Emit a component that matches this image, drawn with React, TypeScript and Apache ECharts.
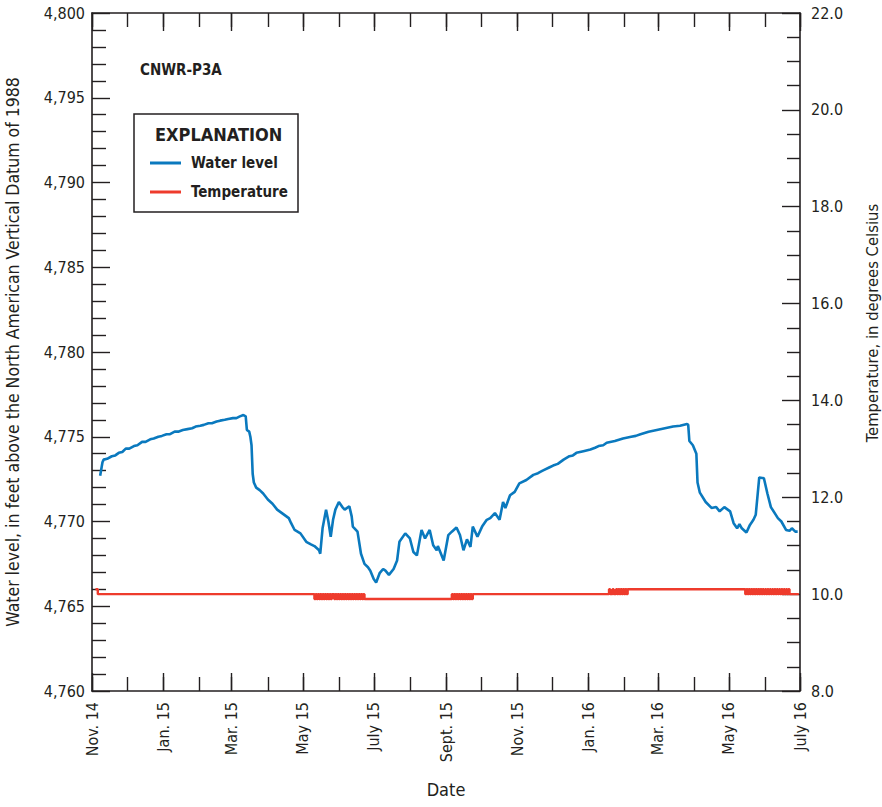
import React, { useEffect, useRef } from 'react';
import * as echarts from 'echarts';

const FONT = "'Liberation Sans Narrow', 'DejaVu Sans Condensed', 'Arial Narrow', 'Liberation Sans', sans-serif";
const INK = '#231f20';
const BLUE = '#0a79be';
const RED = '#ee3b2c';

const WELL_NAME = 'CNWR-P3A';
const AXIS_START = '2014-11-01';
const AXIS_END = '2016-07-01';

// Monthly tick marks along the date axis
const MONTH_TICKS = [
  '2014-11-01', '2014-12-01', '2015-01-01', '2015-02-01', '2015-03-01', '2015-04-01',
  '2015-05-01', '2015-06-01', '2015-07-01', '2015-08-01', '2015-09-01', '2015-10-01',
  '2015-11-01', '2015-12-01', '2016-01-01', '2016-02-01', '2016-03-01', '2016-04-01',
  '2016-05-01', '2016-06-01', '2016-07-01',
];

// Labelled (every other month) ticks
const LABEL_TICKS = [
  '2014-11-01', '2015-01-01', '2015-03-01', '2015-05-01', '2015-07-01', '2015-09-01',
  '2015-11-01', '2016-01-01', '2016-03-01', '2016-05-01', '2016-07-01',
];
const LABEL_TEXTS = [
  'Nov. 14', 'Jan. 15', 'Mar. 15', 'May 15', 'July 15', 'Sept. 15',
  'Nov. 15', 'Jan. 16', 'Mar. 16', 'May 16', 'July 16',
];

// Water level, in feet above NAVD 88
const WATER_LEVEL: [string, number][] = [
  ['2014-11-08', 4772.7], ['2014-11-10', 4773.5], ['2014-11-11', 4773.65], ['2014-11-14', 4773.7],
  ['2014-11-18', 4773.85], ['2014-11-21', 4773.9], ['2014-11-24', 4774.05], ['2014-11-27', 4774.1],
  ['2014-11-30', 4774.3], ['2014-12-03', 4774.3], ['2014-12-07', 4774.45], ['2014-12-10', 4774.5],
  ['2014-12-14', 4774.7], ['2014-12-17', 4774.7], ['2014-12-21', 4774.85], ['2014-12-24', 4774.9],
  ['2014-12-28', 4775.0], ['2014-12-31', 4775.05], ['2015-01-04', 4775.15], ['2015-01-07', 4775.15],
  ['2015-01-11', 4775.3], ['2015-01-14', 4775.3], ['2015-01-18', 4775.4], ['2015-01-22', 4775.45],
  ['2015-01-26', 4775.5], ['2015-01-29', 4775.6], ['2015-02-02', 4775.65], ['2015-02-05', 4775.7],
  ['2015-02-09', 4775.8], ['2015-02-12', 4775.8], ['2015-02-16', 4775.9], ['2015-02-19', 4775.95],
  ['2015-02-23', 4776.0], ['2015-02-26', 4776.05], ['2015-03-02', 4776.1], ['2015-03-05', 4776.1],
  ['2015-03-08', 4776.2], ['2015-03-11', 4776.28], ['2015-03-13', 4776.2], ['2015-03-14', 4775.4],
  ['2015-03-16', 4775.3], ['2015-03-17', 4775.0], ['2015-03-18', 4774.5], ['2015-03-19', 4772.8],
  ['2015-03-20', 4772.3], ['2015-03-22', 4772.0], ['2015-03-25', 4771.85], ['2015-03-28', 4771.65],
  ['2015-04-01', 4771.3], ['2015-04-05', 4771.05], ['2015-04-09', 4770.7], ['2015-04-14', 4770.45],
  ['2015-04-19', 4770.2], ['2015-04-21', 4769.9], ['2015-04-24', 4769.5], ['2015-04-29', 4769.3],
  ['2015-05-04', 4768.8], ['2015-05-08', 4768.65], ['2015-05-11', 4768.55], ['2015-05-15', 4768.3],
  ['2015-05-16', 4768.1], ['2015-05-18', 4769.6], ['2015-05-21', 4770.7], ['2015-05-23', 4770.0],
  ['2015-05-25', 4769.1], ['2015-05-27', 4770.1], ['2015-05-29', 4770.7], ['2015-06-01', 4771.15],
  ['2015-06-04', 4770.85], ['2015-06-06', 4770.7], ['2015-06-10', 4770.9], ['2015-06-12', 4770.3],
  ['2015-06-13', 4769.7], ['2015-06-17', 4769.4], ['2015-06-20', 4768.1], ['2015-06-23', 4767.5],
  ['2015-06-26', 4767.3], ['2015-06-28', 4767.1], ['2015-07-01', 4766.6], ['2015-07-03', 4766.4],
  ['2015-07-06', 4766.95], ['2015-07-09', 4767.2], ['2015-07-11', 4767.1], ['2015-07-14', 4766.85],
  ['2015-07-18', 4767.2], ['2015-07-21', 4767.7], ['2015-07-23', 4768.8], ['2015-07-28', 4769.3],
  ['2015-08-01', 4769.0], ['2015-08-04', 4768.2], ['2015-08-07', 4768.0], ['2015-08-11', 4769.5],
  ['2015-08-14', 4769.0], ['2015-08-18', 4769.5], ['2015-08-21', 4768.6], ['2015-08-24', 4768.3],
  ['2015-08-25', 4768.55], ['2015-08-30', 4767.7], ['2015-09-03', 4769.2], ['2015-09-06', 4769.4],
  ['2015-09-10', 4769.65], ['2015-09-13', 4769.2], ['2015-09-16', 4768.3], ['2015-09-19', 4768.95],
  ['2015-09-22', 4768.5], ['2015-09-24', 4769.7], ['2015-09-28', 4769.1], ['2015-10-02', 4769.7],
  ['2015-10-06', 4770.1], ['2015-10-09', 4770.2], ['2015-10-13', 4770.5], ['2015-10-17', 4770.1],
  ['2015-10-20', 4771.15], ['2015-10-22', 4770.8], ['2015-10-26', 4771.55], ['2015-10-30', 4771.75],
  ['2015-11-03', 4772.25], ['2015-11-09', 4772.45], ['2015-11-15', 4772.75], ['2015-11-19', 4772.85],
  ['2015-11-23', 4773.0], ['2015-11-29', 4773.2], ['2015-12-02', 4773.3], ['2015-12-06', 4773.4],
  ['2015-12-11', 4773.65], ['2015-12-16', 4773.85], ['2015-12-19', 4773.9], ['2015-12-22', 4774.05],
  ['2015-12-28', 4774.15], ['2016-01-03', 4774.25], ['2016-01-07', 4774.35], ['2016-01-10', 4774.45],
  ['2016-01-14', 4774.5], ['2016-01-17', 4774.65], ['2016-01-24', 4774.75], ['2016-01-31', 4774.9],
  ['2016-02-07', 4775.0], ['2016-02-11', 4775.05], ['2016-02-15', 4775.15], ['2016-02-22', 4775.3],
  ['2016-02-29', 4775.4], ['2016-03-07', 4775.5], ['2016-03-14', 4775.6], ['2016-03-20', 4775.65],
  ['2016-03-26', 4775.75], ['2016-03-27', 4775.7], ['2016-03-28', 4774.75], ['2016-03-31', 4774.5],
  ['2016-04-03', 4774.0], ['2016-04-04', 4772.3], ['2016-04-06', 4771.7], ['2016-04-11', 4771.15],
  ['2016-04-16', 4770.8], ['2016-04-20', 4770.85], ['2016-04-23', 4770.6], ['2016-04-27', 4770.85],
  ['2016-05-02', 4770.6], ['2016-05-05', 4769.9], ['2016-05-08', 4769.6], ['2016-05-10', 4769.85],
  ['2016-05-12', 4769.6], ['2016-05-16', 4769.35], ['2016-05-19', 4769.8], ['2016-05-22', 4770.1],
  ['2016-05-24', 4770.4], ['2016-05-27', 4772.6], ['2016-05-31', 4772.55], ['2016-06-03', 4771.65],
  ['2016-06-06', 4770.85], ['2016-06-12', 4770.2], ['2016-06-15', 4770.0], ['2016-06-19', 4769.5],
  ['2016-06-22', 4769.45], ['2016-06-24', 4769.6], ['2016-06-27', 4769.4], ['2016-06-29', 4769.4],
];

// Temperature, degrees Celsius: steady readings between logger flicker periods
const TEMPERATURE_STEPS: [string, number][] = [
  ['2014-11-04', 10.1], ['2014-11-06', 10.0],
  ['2015-06-24', 9.9],
  ['2015-09-24', 10.0],
  ['2016-02-04', 10.1],
  ['2016-06-21', 10.1], ['2016-06-22', 10.0], ['2016-06-30', 10.0],
];

// Daily readings while the sensor flickered between two values
const FLICKER_MAY_2015_START = '2015-05-11';
const FLICKER_MAY_2015 = [
  9.9, 10.0, 9.9, 10.0, 9.9, 10.0, 9.9, 10.0, 9.9, 10.0, 9.9, 10.0, 9.9, 10.0, 9.9,
  10.0, 10.0, 9.9, 10.0, 9.9, 10.0, 9.9, 10.0, 9.9, 10.0, 9.9, 10.0, 9.9, 10.0, 9.9,
  10.0, 9.9, 10.0, 9.9, 10.0, 9.9, 10.0, 9.9, 10.0, 9.9, 10.0, 9.9, 10.0, 9.9,
];
const FLICKER_SEP_2015_START = '2015-09-06';
const FLICKER_SEP_2015 = [
  10.0, 9.9, 10.0, 9.9, 10.0, 9.9, 10.0, 9.9, 10.0, 9.9, 10.0, 9.9, 10.0, 9.9, 10.0, 9.9, 10.0, 9.9,
];
const FLICKER_JAN_2016_START = '2016-01-19';
const FLICKER_JAN_2016 = [
  10.1, 10.0, 10.0, 10.1, 10.0, 10.0, 10.1, 10.0, 10.1, 10.0, 10.1, 10.0, 10.1, 10.0, 10.1, 10.0,
];
const FLICKER_MAY_2016_START = '2016-05-15';
const FLICKER_MAY_2016 = [
  10.0, 10.1, 10.0, 10.1, 10.0, 10.1, 10.0, 10.1, 10.0, 10.1, 10.0, 10.1, 10.0, 10.1, 10.0, 10.1,
  10.0, 10.1, 10.0, 10.1, 10.0, 10.1, 10.0, 10.1, 10.0, 10.1, 10.0, 10.1, 10.0, 10.1, 10.0, 10.1,
  10.0, 10.1, 10.0, 10.1, 10.0,
];

const DAY_MS = 86400000;
const toTime = (s: string) => {
  const [y, m, d] = s.split('-').map(Number);
  return Date.UTC(y, m - 1, d);
};

function dailyRun(start: string, values: number[]): [number, number][] {
  const t0 = toTime(start);
  return values.map((v, i) => [t0 + i * DAY_MS, v]);
}

function buildTemperature(): [number, number][] {
  const pts: [number, number][] = [
    ...TEMPERATURE_STEPS.map(([d, v]) => [toTime(d), v] as [number, number]),
    ...dailyRun(FLICKER_MAY_2015_START, FLICKER_MAY_2015),
    ...dailyRun(FLICKER_SEP_2015_START, FLICKER_SEP_2015),
    ...dailyRun(FLICKER_JAN_2016_START, FLICKER_JAN_2016),
    ...dailyRun(FLICKER_MAY_2016_START, FLICKER_MAY_2016),
  ];
  return pts.sort((a, b) => a[0] - b[0]);
}

const tickLine = { color: INK, width: 1.4 };
const textBase = { color: INK, fontFamily: FONT };

export default function App() {
  const ref = useRef<HTMLDivElement>(null);

  useEffect(() => {
    if (!ref.current) return;
    const chart = echarts.init(ref.current, undefined, { renderer: 'svg' });

    const xMin = toTime(AXIS_START);
    const xMax = toTime(AXIS_END);
    const monthTimes = MONTH_TICKS.map(toTime);
    const labelTimes = LABEL_TICKS.map(toTime);
    const labelFor = (v: number) => {
      const i = labelTimes.indexOf(v);
      return i >= 0 ? LABEL_TEXTS[i] : '';
    };

    // Dates are plotted as epoch milliseconds on a linear axis
    const baseX = {
      type: 'value',
      min: xMin,
      max: xMax,
      scale: true,
      splitLine: { show: false },
    };

    const option: any = {
      animation: false,
      backgroundColor: '#ffffff',
      grid: { left: 92, top: 13, width: 708, height: 678, containLabel: false, outerBoundsMode: 'none' },
      xAxis: [
        {
          ...baseX,
          position: 'bottom',
          axisLine: { show: true, lineStyle: { color: INK, width: 1.6 } },
          axisTick: { show: true, inside: true, length: 14, customValues: monthTimes, lineStyle: tickLine },
          axisLabel: {
            ...textBase,
            fontSize: 16,
            rotate: 90,
            margin: 11,
            customValues: labelTimes,
            formatter: (v: number) => labelFor(v),
          },
          name: 'Date',
          nameLocation: 'middle',
          nameGap: 89,
          nameTextStyle: { ...textBase, fontSize: 18 },
        },
        {
          ...baseX,
          position: 'bottom',
          axisLine: { show: false },
          axisTick: { show: true, inside: true, length: 18, customValues: labelTimes, lineStyle: tickLine },
          axisLabel: { show: false },
        },
        {
          ...baseX,
          position: 'top',
          axisLine: { show: true, lineStyle: { color: INK, width: 1.6 } },
          axisTick: { show: true, inside: true, length: 14, customValues: monthTimes, lineStyle: tickLine },
          axisLabel: { show: false },
        },
        {
          ...baseX,
          position: 'top',
          axisLine: { show: false },
          axisTick: { show: true, inside: true, length: 18, customValues: labelTimes, lineStyle: tickLine },
          axisLabel: { show: false },
        },
      ],
      yAxis: [
        {
          type: 'value',
          position: 'left',
          min: 4760,
          max: 4800,
          interval: 5,
          splitLine: { show: false },
          axisLine: { show: true, lineStyle: { color: INK, width: 1.6 } },
          axisTick: { show: true, inside: true, length: 18, lineStyle: tickLine },
          minorTick: { show: true, splitNumber: 5, length: 14, lineStyle: tickLine },
          axisLabel: {
            ...textBase,
            fontSize: 16,
            margin: 7,
            formatter: (v: number) => v.toLocaleString('en-US'),
          },
          name: 'Water level, in feet above the North American Vertical Datum of 1988',
          nameLocation: 'middle',
          nameGap: 70,
          nameTextStyle: { ...textBase, fontSize: 17.5 },
        },
        {
          type: 'value',
          position: 'right',
          min: 8,
          max: 22,
          interval: 2,
          splitLine: { show: false },
          axisLine: { show: true, lineStyle: { color: INK, width: 1.6 } },
          axisTick: { show: true, inside: true, length: 18, lineStyle: tickLine },
          minorTick: { show: true, splitNumber: 4, length: 13, lineStyle: tickLine },
          axisLabel: {
            ...textBase,
            fontSize: 16,
            margin: 11,
            formatter: (v: number) => v.toFixed(1),
          },
        },
      ],
      series: [
        {
          name: 'Water level',
          type: 'line',
          xAxisIndex: 0,
          yAxisIndex: 0,
          showSymbol: false,
          lineStyle: { color: BLUE, width: 2.6 },
          itemStyle: { color: BLUE },
          data: WATER_LEVEL.map(([d, v]) => [toTime(d), v]),
        },
        {
          name: 'Temperature',
          type: 'line',
          step: 'end',
          xAxisIndex: 0,
          yAxisIndex: 1,
          showSymbol: false,
          lineStyle: { color: RED, width: 2.4 },
          itemStyle: { color: RED },
          data: buildTemperature(),
        },
      ],
      graphic: [
        {
          type: 'text',
          x: 140,
          y: 70,
          style: { text: WELL_NAME, fill: INK, font: `bold 15px ${FONT}`, verticalAlign: 'middle' },
        },
        {
          type: 'rect',
          shape: { x: 134, y: 114, width: 164, height: 98 },
          style: { fill: '#ffffff', stroke: INK, lineWidth: 1.5 },
        },
        {
          type: 'text',
          x: 155,
          y: 134,
          style: { text: 'EXPLANATION', fill: INK, font: `bold 18px ${FONT}`, verticalAlign: 'middle' },
        },
        {
          type: 'line',
          shape: { x1: 150, y1: 163, x2: 181, y2: 163 },
          style: { stroke: BLUE, lineWidth: 3 },
        },
        {
          type: 'text',
          x: 191,
          y: 163,
          style: { text: 'Water level', fill: INK, font: `bold 15px ${FONT}`, verticalAlign: 'middle' },
        },
        {
          type: 'line',
          shape: { x1: 150, y1: 192, x2: 181, y2: 192 },
          style: { stroke: RED, lineWidth: 3 },
        },
        {
          type: 'text',
          x: 191,
          y: 192,
          style: { text: 'Temperature', fill: INK, font: `bold 15px ${FONT}`, verticalAlign: 'middle' },
        },
        {
          type: 'text',
          x: 872,
          y: 323,
          rotation: Math.PI / 2,
          style: {
            text: 'Temperature, in degrees Celsius',
            fill: INK,
            font: `16.5px ${FONT}`,
            align: 'center',
            verticalAlign: 'middle',
          },
        },
      ],
    };

    chart.setOption(option);
    return () => chart.dispose();
  }, []);

  return (
    <div
      ref={ref}
      style={{ position: 'absolute', left: 0, top: 0, width: 882, height: 807, background: '#fff' }}
    />
  );
}
